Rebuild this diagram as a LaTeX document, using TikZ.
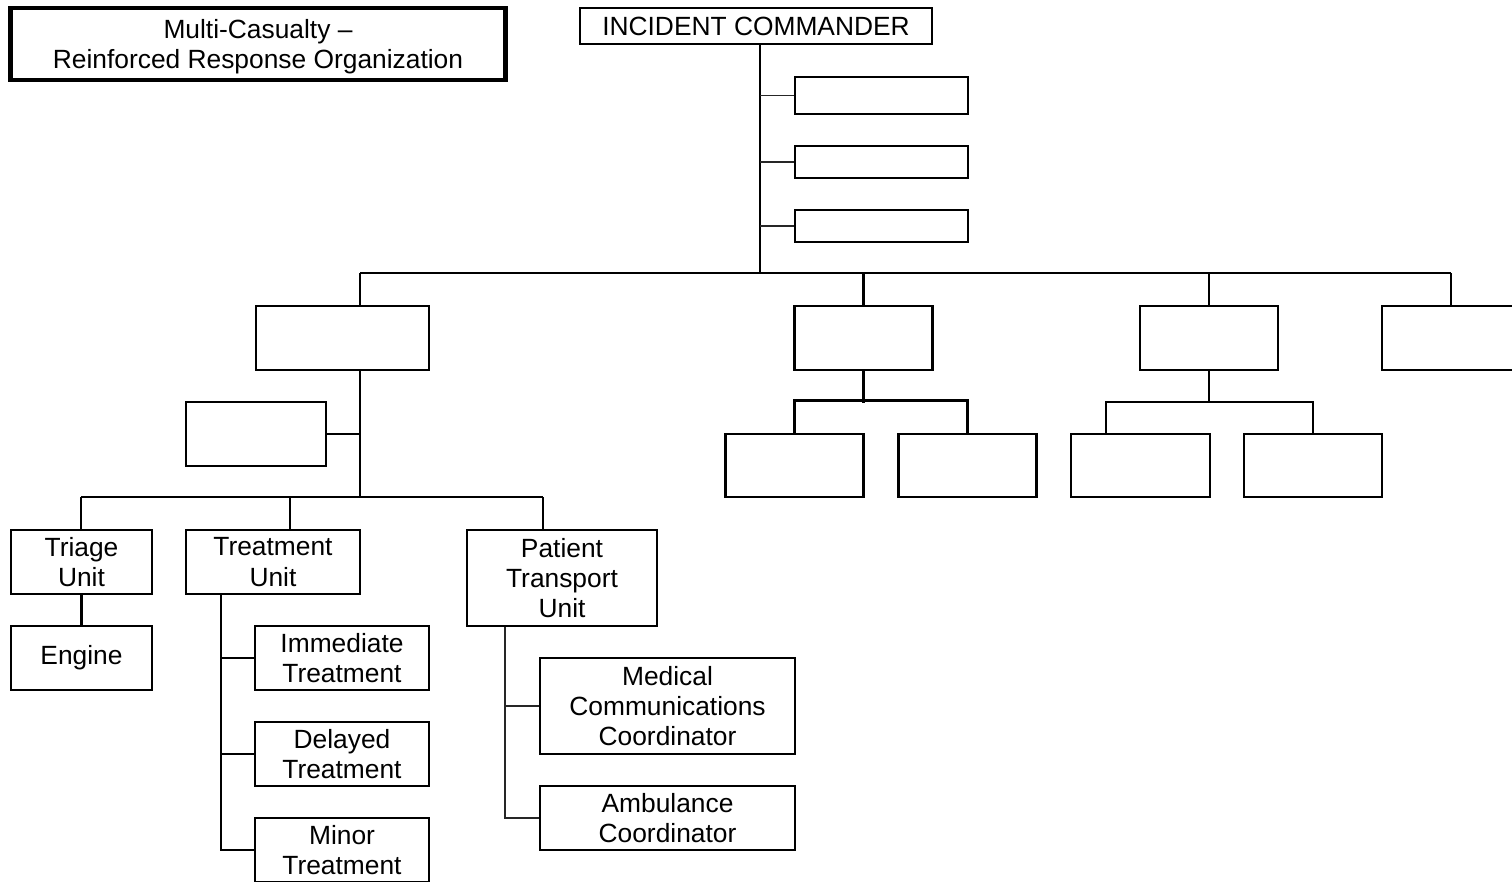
\documentclass[tikz,border=0pt]{standalone}
\usepackage{fontspec}
\setmainfont{Liberation Sans}
\tikzset{
  orgbox/.style={draw, line width=1.3pt, align=center, inner sep=0pt, font=\fontsize{15}{17.2}\selectfont},
  link/.style={line width=1.3pt},
  thinlink/.style={line width=0.7pt, black!85}
}
\begin{document}
\begin{tikzpicture}[x=0.02cm, y=-0.02cm]
\useasboundingbox (0,0) rectangle (1512,882);
\clip (0,0) rectangle (1512,882);
% title
\node[orgbox, line width=2.8pt, minimum width=9.92cm, minimum height=1.44cm, text depth=-0.03cm] (title) at (258,44) {Multi-Casualty –\\Reinforced Response Organization};
% command
\node[orgbox, minimum width=7.04cm, minimum height=0.72cm, text depth=-0.12cm] (ic) at (756,26) {INCIDENT COMMANDER};
\node[orgbox, minimum width=3.46cm, minimum height=0.74cm] (s1) at (881.5,95.5) {};
\node[orgbox, minimum width=3.46cm, minimum height=0.64cm] (s2) at (881.5,162) {};
\node[orgbox, minimum width=3.46cm, minimum height=0.64cm] (s3) at (881.5,226) {};
% sections
\node[orgbox, minimum width=3.46cm, minimum height=1.28cm] (b1) at (342.5,338) {};
\node[orgbox, minimum width=2.76cm, minimum height=1.28cm] (b2) at (863.5,338) {};
\node[orgbox, minimum width=2.76cm, minimum height=1.28cm] (b3) at (1209,338) {};
\node[orgbox, minimum width=2.76cm, minimum height=1.28cm] (b4) at (1451,338) {};
\node[orgbox, minimum width=2.76cm, minimum height=1.27cm] (c1) at (794.5,465.5) {};
\node[orgbox, minimum width=2.76cm, minimum height=1.27cm] (c2) at (967.5,465.5) {};
\node[orgbox, minimum width=2.78cm, minimum height=1.27cm] (c3) at (1140.5,465.5) {};
\node[orgbox, minimum width=2.76cm, minimum height=1.27cm] (c4) at (1313,465.5) {};
\node[orgbox, minimum width=2.8cm, minimum height=1.28cm] (side) at (256,434) {};
% units
\node[orgbox, minimum width=2.82cm, minimum height=1.28cm] (triage) at (81.5,562) {Triage\\Unit};
\node[orgbox, minimum width=2.82cm, minimum height=1.28cm] (engine) at (81.5,658) {Engine};
\node[orgbox, minimum width=3.48cm, minimum height=1.28cm] (treat) at (273,562) {Treatment\\Unit};
\node[orgbox, minimum width=3.48cm, minimum height=1.28cm] (imm) at (342,658) {Immediate\\Treatment};
\node[orgbox, minimum width=3.48cm, minimum height=1.28cm] (del) at (342,754) {Delayed\\Treatment};
\node[orgbox, minimum width=3.48cm, minimum height=1.28cm] (minor) at (342,850) {Minor\\Treatment};
\node[orgbox, minimum width=3.8cm, minimum height=1.92cm] (ptu) at (562,578) {Patient\\Transport\\Unit};
\node[orgbox, minimum width=5.1cm, minimum height=1.92cm] (med) at (667.5,706) {Medical\\Communications\\Coordinator};
\node[orgbox, minimum width=5.1cm, minimum height=1.28cm] (amb) at (667.5,818) {Ambulance\\Coordinator};
% junctions
\coordinate (hub) at (760,273);
\coordinate (busL) at (360,273);
\coordinate (busR) at (1451,273);
\coordinate (d3) at (1106,402);
\coordinate (lowL) at (81,497);
\coordinate (lowR) at (543,497);
\coordinate (low) at (360,497);
\coordinate (tdrop) at (290,497);
\coordinate (tv) at (221,850);
\coordinate (pv) at (505,817);
% connectors
\draw[link] (ic.south -| hub) -- (hub);
\draw[thinlink] (s1.west) -- (s1.west -| hub);
\draw[thinlink] (s2.west) -- (s2.west -| hub);
\draw[thinlink] (s3.west) -- (s3.west -| hub);
\draw[link] (busL) -- (busR);
\draw[link] (busL) -- (busL |- b1.north);
\draw[link] (b2.north) -- (b2.north |- busL);
\draw[link] (b3.north) -- (b3.north |- busL);
\draw[link] (b4.north) -- (b4.north |- busL);
\draw[link] (b2.south) -- ++(0,32);
\draw[link] (c1.north) -- ++(0,-32) -| (c2.north);
\draw[link] (b3.south) -- (b3.south |- d3);
\draw[link] (c3.north -| d3) -- (d3) -| (c4.north);
\draw[link] (b1.south -| low) -- (low);
\draw[link] (side.east) -- (side.east -| low);
\draw[link] (lowL) -- (lowR);
\draw[link] (lowL) -- (lowL |- triage.north);
\draw[link] (tdrop) -- (tdrop |- treat.north);
\draw[link] (lowR) -- (lowR |- ptu.north);
\draw[link] (triage) -- (engine);
\draw[link] (treat.south -| tv) |- (minor.west);
\draw[link] (imm.west) -- (imm.west -| tv);
\draw[link] (del.west) -- (del.west -| tv);
\draw[thinlink] (ptu.south -| pv) |- (amb.west);
\draw[thinlink] (med.west) -- (med.west -| pv);
\end{tikzpicture}
\end{document}
